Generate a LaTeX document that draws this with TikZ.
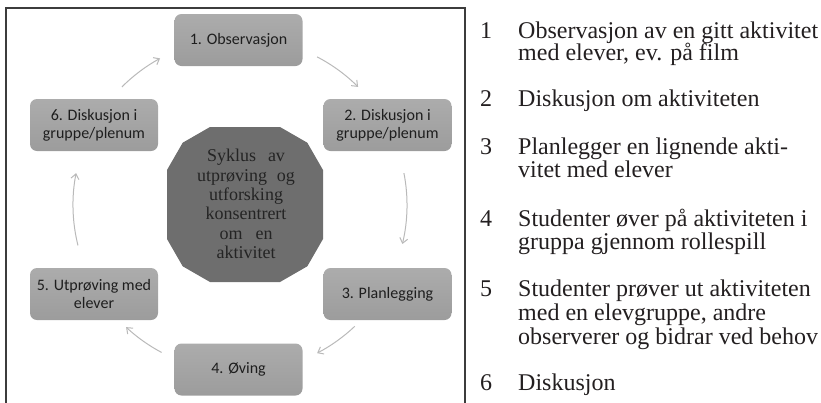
\documentclass[tikz,border=0pt]{standalone}
\usepackage{fontspec}
\setmainfont{Liberation Serif}
\newfontfamily\boxfont{Carlito}
\usetikzlibrary{arrows.meta,calc}
\definecolor{boxtop}{RGB}{172,172,172}
\definecolor{boxbot}{RGB}{156,156,156}
\definecolor{boxtext}{RGB}{30,30,30}
\definecolor{polyfill}{RGB}{110,110,110}
\definecolor{polytext}{RGB}{36,36,36}
\definecolor{arrowgray}{RGB}{185,185,185}
\definecolor{framegray}{RGB}{60,60,60}
\definecolor{listtext}{RGB}{35,31,32}
\begin{document}
\begin{tikzpicture}[x=1pt,y=-1pt,
  stepbox/.style={rounded corners=7pt, top color=boxtop, bottom color=boxbot, draw=none,
    minimum width=128pt, minimum height=52pt, inner sep=0pt, align=center,
    font=\boxfont\fontsize{16}{18}\selectfont, text=boxtext},
  cycarrow/.style={draw=arrowgray, line width=1pt, -{Straight Barb[length=5pt,width=8pt]}},
  listline/.style={anchor=base west, inner sep=0pt, font=\fontsize{24}{24}\selectfont, text=listtext},
  coretext/.style={inner sep=0pt, align=center, font=\fontsize{18}{19.4}\selectfont, text=polytext},
]
\useasboundingbox (0,0) rectangle (821,402);
\draw[framegray, line width=1.2pt] (6,410) -- (6,8) -- (465,8) -- (465,410);

% central polygon
\fill[polyfill] (210,127) -- (280,127) -- (307.3,142.7) -- (323,170) -- (323,239) -- (307.3,266.3)
  -- (280,282) -- (210,282) -- (182.7,266.3) -- (167,239) -- (167,170) -- (182.7,142.7) -- cycle;
\node[coretext] (core) at (246,204) {Syklus\hspace{12pt}av\\utprøving\hspace{10pt}og\\utforsking\\konsentrert\\om\hspace{13pt}en\\aktivitet};

% boxes
\node[stepbox] (b1) at (238.5,40) {1. Observasjon};
\node[stepbox] (b2) at (387.5,125) {2. Diskusjon i\\gruppe/plenum};
\node[stepbox] (b3) at (387.5,294) {3. Planlegging};
\node[stepbox] (b4) at (238.5,369.5) {4. Øving};
\node[stepbox] (b5) at (94,294) {5. Utprøving med\\elever};
\node[stepbox] (b6) at (94,125) {6. Diskusjon i\\gruppe/plenum};

% cycle arrows
\coordinate (cyc) at (240,205);
\draw[cycarrow] ($(cyc)+(-62.5:167)$) arc[start angle=-62.5, end angle=-45, radius=167];
\draw[cycarrow] ($(cyc)+(-11:167)$) arc[start angle=-11, end angle=13.5, radius=167];
\draw[cycarrow] ($(cyc)+(46.6:167)$) arc[start angle=46.6, end angle=62.5, radius=167];
\draw[cycarrow] ($(cyc)+(118:167)$) arc[start angle=118, end angle=133, radius=167];
\draw[cycarrow] ($(cyc)+(166:167)$) arc[start angle=166, end angle=191, radius=167];
\draw[cycarrow] ($(cyc)+(-135:167)$) arc[start angle=-135, end angle=-118.6, radius=167];

% list
\node[listline] (n1) at (480,38) {1};
\node[listline] (t1a) at (518,38) {Observasjon av en gitt aktivitet};
\node[listline] (t1b) at (518,60) {med elever, ev. på film};
\node[listline] (n2) at (480,106) {2};
\node[listline] (t2a) at (518,106) {Diskusjon om aktiviteten};
\node[listline] (n3) at (480,154) {3};
\node[listline] (t3a) at (518,154) {Planlegger en lignende akti-};
\node[listline] (t3b) at (518,177) {vitet med elever};
\node[listline] (n4) at (480,226) {4};
\node[listline] (t4a) at (518,226) {Studenter øver på aktiviteten i};
\node[listline] (t4b) at (518,249) {gruppa gjennom rollespill};
\node[listline] (n5) at (480,296) {5};
\node[listline] (t5a) at (518,296) {Studenter prøver ut aktiviteten};
\node[listline] (t5b) at (518,320) {med en elevgruppe, andre};
\node[listline] (t5c) at (518,344) {observerer og bidrar ved behov};
\node[listline] (n6) at (480,390) {6};
\node[listline] (t6a) at (518,390) {Diskusjon};
\end{tikzpicture}
\end{document}
